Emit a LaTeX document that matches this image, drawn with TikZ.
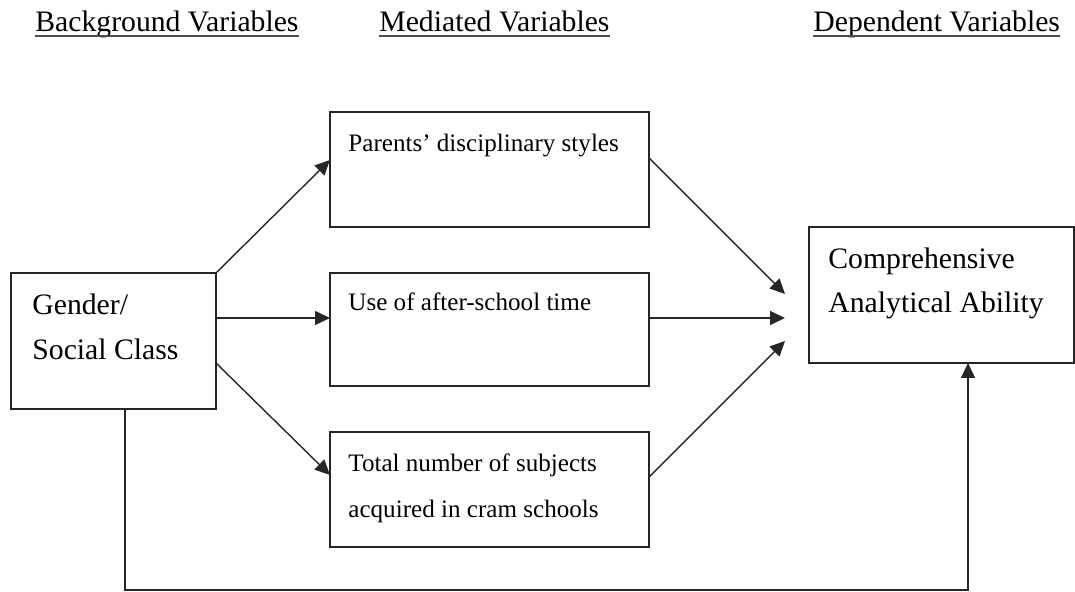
\documentclass[tikz,border=0pt]{standalone}
\usepackage{fontspec}
\setmainfont{Liberation Serif}
\usetikzlibrary{arrows.meta,calc}
\begin{document}
\begin{tikzpicture}[x=0.5pt,y=-0.5pt,
  line/.style={draw=black!85,line width=0.7pt},
  box/.style={line,rectangle,inner sep=0pt,outer sep=0pt},
  arr/.style={line,-{Triangle[length=7.5pt,width=7pt]}},
  big/.style={inner sep=0pt,anchor=base west,font=\fontsize{14.85pt}{18pt}\selectfont},
  small/.style={inner sep=0pt,anchor=base west,font=\fontsize{12.55pt}{15pt}\selectfont},
  uline/.style={draw=black!70,line width=1pt}]
\useasboundingbox (0,0) rectangle (1075,592);
% headings
\node[big] (h1) at (35,32) {Background Variables};
\node[big] (h2) at (379,32) {Mediated Variables};
\node[big] (h3) at (813,32) {Dependent Variables};
\foreach \h in {h1,h2,h3}
  \draw[uline] ($(\h.base west)+(0,4)$) -- ($(\h.base east)+(0,4)$);
% boxes
\node[box,minimum width=102.5pt,minimum height=68pt] (g) at (113.5,341) {};
\node[box,minimum width=159.5pt,minimum height=57.5pt] (p) at (489.5,169.5) {};
\node[box,minimum width=159.5pt,minimum height=56.5pt] (u) at (489.5,329.5) {};
\node[box,minimum width=159.5pt,minimum height=57.5pt] (t) at (489.5,489.5) {};
\node[box,minimum width=132.5pt,minimum height=68pt] (c) at (941.5,295) {};
% texts
\node[big] (g1) at (32,315) {Gender/};
\node[big] (g2) at (32,360) {Social Class};
\node[small] (p1) at (348,152) {Parents’ disciplinary styles};
\node[small] (u1) at (348,311) {Use of after-school time};
\node[small] (t1) at (348,472) {Total number of subjects};
\node[small] (t2) at (348,517) {acquired in cram schools};
\node[big] (c1t) at (828,269) {Comprehensive};
\node[big] (c2t) at (828,313) {Analytical Ability};
% free arrow ends
\coordinate (e1) at ($(c.west)+(-24,-1)$);
\coordinate (e2) at ($(c.west)+(-24,23)$);
\coordinate (e3) at ($(c.west)+(-24,46)$);
% connectors
\draw[arr] (g.north east) -- ($(p.north west)+(0,48)$);
\draw[arr] ($(g.east)+(0,-23)$) -- ($(u.west)+(0,-11.5)$);
\draw[arr] ($(g.east)+(0,22)$) -- ($(t.west)+(0,-14.5)$);
\draw[arr] ($(p.east)+(0,-11.5)$) -- (e1);
\draw[arr] ($(u.east)+(0,-11.5)$) -- (e2);
\draw[arr] ($(t.east)+(0,-12.5)$) -- (e3);
\draw[arr] ($(g.south)+(11.5,0)$) -- ++(0,181) -| ($(c.south)+(26.5,0)$);
\end{tikzpicture}
\end{document}
